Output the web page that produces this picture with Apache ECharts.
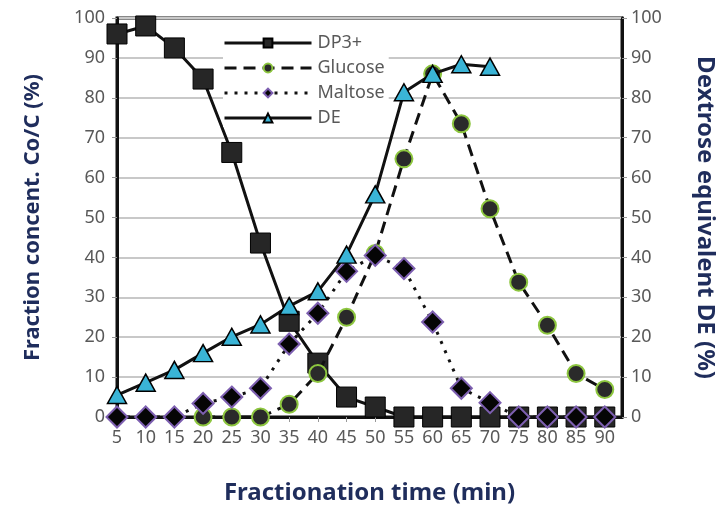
<!DOCTYPE html>
<html>
<head>
<meta charset="utf-8">
<script src="https://cdn.jsdelivr.net/npm/echarts@6/dist/echarts.min.js"></script>
<style>
  html, body { margin: 0; padding: 0; background: #fff; }
  #chart { width: 725px; height: 510px; }
</style>
</head>
<body>
<div id="chart"></div>
<script>
// Fractionation time (min)
const times = [5, 10, 15, 20, 25, 30, 35, 40, 45, 50, 55, 60, 65, 70, 75, 80, 85, 90];

// Fraction concentration Co/C (%)
const dp3 =     [96, 98, 92.5, 84.7, 66.3, 43.6, 24, 13.5, 5, 2.5, 0, 0, 0, 0, 0, 0, 0, 0];
const glucose = [null, null, null, 0, 0, 0, 3.2, 10.9, 25, 41, 64.7, 86, 73.5, 52.2, 33.8, 23, 10.9, 6.9];
const maltose = [0, 0, 0, 3.4, 5, 7.2, 18.3, 26, 36.5, 40.5, 37.2, 23.8, 7.2, 3.6, 0, 0, 0, 0];

// Dextrose equivalent DE (%), right axis
const deTimes = [5, 10, 15, 20, 25, 30, 35, 40, 45, 50, 55, 60, 65, 70];
const de =      [5.5, 8.6, 11.8, 16, 20.1, 23.2, 27.8, 31.5, 40.7, 55.8, 81.4, 86, 88.4, 87.8];

// Axis tick labels
const yTicks = [0, 10, 20, 30, 40, 50, 60, 70, 80, 90, 100];

const pair = (xs, ys) => xs.map((x, i) => [x, ys[i]]);

const tickFont = { color: '#595959', fontSize: 18, fontFamily: 'Noto Sans' };
const titleFont = size => ({ color: '#1f2d5c', fontSize: size, fontWeight: 'bold', fontFamily: 'Noto Sans' });

const chart = echarts.init(document.getElementById('chart'), null, { renderer: 'canvas' });

const yAxisBase = {
  type: 'value',
  min: yTicks[0],
  max: yTicks[yTicks.length - 1],
  interval: 10,
  nameLocation: 'middle',
  axisLine: { show: true, lineStyle: { color: '#111', width: 3 } },
  axisTick: { show: true, length: 5, lineStyle: { color: '#999', width: 1 } },
  axisLabel: Object.assign({}, tickFont),
  splitLine: { show: true, lineStyle: { color: '#c8c8c8', width: 2 } }
};

chart.setOption({
  animation: false,
  backgroundColor: '#fff',
  grid: {
    left: 117, right: 94, top: 18, bottom: 93,
    show: true, borderColor: '#111', borderWidth: 3, backgroundColor: 'transparent'
  },
  legend: {
    left: 223, top: 34,
    orient: 'vertical',
    itemWidth: 87, itemHeight: 11, itemGap: 7,
    padding: [0, 4, 0, 0],
    backgroundColor: '#fff',
    lineStyle: { width: 3 },
    textStyle: { color: '#595959', fontSize: 18, fontFamily: 'Noto Sans', padding: [0, 0, 0, 1] },
    data: ['DP3+', 'Glucose', 'Maltose', 'DE']
  },
  xAxis: {
    type: 'value',
    min: times[0],
    max: 93,
    interval: 5,
    name: 'Fractionation time (min)',
    nameLocation: 'middle',
    nameGap: 64,
    nameTextStyle: titleFont(24),
    axisLine: { show: true, lineStyle: { color: '#111', width: 3 } },
    axisTick: { show: true, length: 5, lineStyle: { color: '#999', width: 1 } },
    axisLabel: Object.assign({}, tickFont, {
      margin: 12,
      showMaxLabel: false,
      formatter: v => (times.indexOf(v) >= 0 ? String(v) : '')
    }),
    splitLine: { show: false }
  },
  yAxis: [
    Object.assign({}, yAxisBase, {
      position: 'left',
      name: 'Fraction concent. Co/C (%)',
      nameGap: 73,
      nameTextStyle: titleFont(22),
      axisLabel: Object.assign({}, tickFont, { margin: 12 })
    }),
    Object.assign({}, yAxisBase, {
      position: 'right',
      name: 'Dextrose equivalent DE (%)',
      nameGap: 71,
      nameRotate: -90,
      nameTextStyle: titleFont(24),
      axisLabel: Object.assign({}, tickFont, { margin: 9 }),
      splitLine: { show: false }
    })
  ],
  series: [
    {
      name: 'DP3+', type: 'line', yAxisIndex: 0, z: 2,
      data: pair(times, dp3),
      symbol: 'rect', symbolSize: 20,
      lineStyle: { color: '#111', width: 3 },
      itemStyle: { color: '#262626', borderColor: '#000', borderWidth: 1 }
    },
    {
      name: 'Glucose', type: 'line', yAxisIndex: 0, z: 3,
      data: pair(times, glucose),
      symbol: 'circle', symbolSize: 17,
      lineStyle: { color: '#111', width: 3, type: [12, 7] },
      itemStyle: { color: '#2a2a2a', borderColor: '#8dc63f', borderWidth: 2 }
    },
    {
      name: 'Maltose', type: 'line', yAxisIndex: 0, z: 4,
      data: pair(times, maltose),
      symbol: 'diamond', symbolSize: 21,
      lineStyle: { color: '#111', width: 3, type: [3, 7] },
      itemStyle: { color: '#050505', borderColor: '#7d5fb0', borderWidth: 2 }
    },
    {
      name: 'DE', type: 'line', yAxisIndex: 1, z: 5,
      data: pair(deTimes, de),
      symbol: 'triangle', symbolSize: [19, 17],
      lineStyle: { color: '#111', width: 3 },
      itemStyle: { color: '#3ab4d6', borderColor: '#000', borderWidth: 1.5 }
    }
  ]
});
</script>
</body>
</html>
